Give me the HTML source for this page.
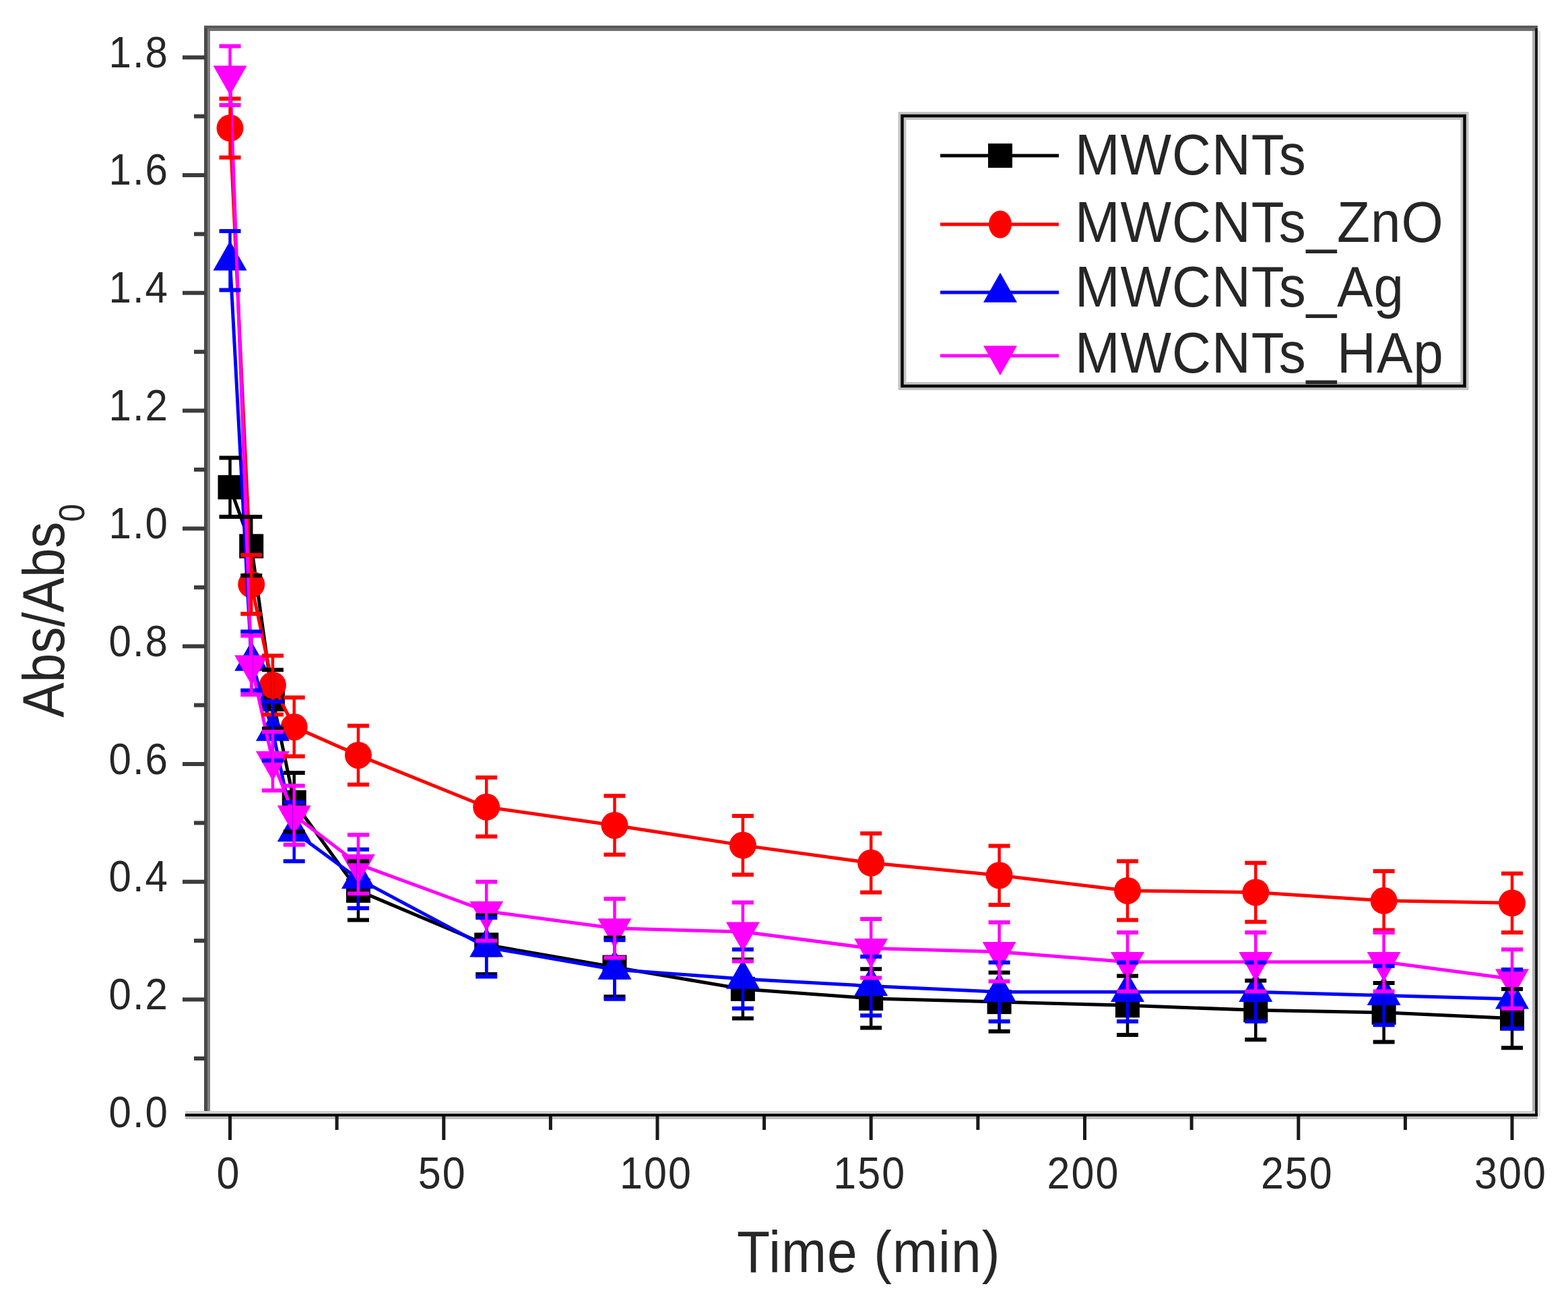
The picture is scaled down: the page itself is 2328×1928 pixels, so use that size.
<!DOCTYPE html>
<html><head><meta charset="utf-8"><title>Abs/Abs0 vs Time</title>
<style>html,body{margin:0;padding:0;background:#fff;}svg{display:block;}text{font-family:'Liberation Sans',Arial,sans-serif;}</style>
</head><body>
<svg width="2328" height="1928" viewBox="0 0 2328 1928">
<rect width="2328" height="1928" fill="#fff"/>
<rect x="303" y="38" width="5" height="1619" fill="#4a4a4a"/>
<rect x="308" y="42" width="4" height="1611" fill="#808080"/>
<rect x="303" y="38" width="1980" height="4" fill="#5a5a5a"/>
<rect x="308" y="42" width="1975" height="4" fill="#707070"/>
<rect x="2275" y="46" width="4" height="1607" fill="#b0b0b0"/>
<rect x="2279" y="42" width="4" height="1615" fill="#1a1a1a"/>
<rect x="2283" y="46" width="4" height="1611" fill="#e0e0e0"/>
<rect x="275" y="1649" width="2004" height="4" fill="#d0d0d0"/>
<rect x="275" y="1653" width="2008" height="4" fill="#000"/>
<rect x="275" y="1657" width="2008" height="4" fill="#c0c0c0"/>
<line x1="288" y1="1571.0" x2="305" y2="1571.0" stroke="#3c3c3c" stroke-width="6"/>
<line x1="271" y1="1483.6" x2="305" y2="1483.6" stroke="#3c3c3c" stroke-width="6"/>
<line x1="288" y1="1396.2" x2="305" y2="1396.2" stroke="#3c3c3c" stroke-width="6"/>
<line x1="271" y1="1308.8" x2="305" y2="1308.8" stroke="#3c3c3c" stroke-width="6"/>
<line x1="288" y1="1221.4" x2="305" y2="1221.4" stroke="#3c3c3c" stroke-width="6"/>
<line x1="271" y1="1134.0" x2="305" y2="1134.0" stroke="#3c3c3c" stroke-width="6"/>
<line x1="288" y1="1046.6" x2="305" y2="1046.6" stroke="#3c3c3c" stroke-width="6"/>
<line x1="271" y1="959.2" x2="305" y2="959.2" stroke="#3c3c3c" stroke-width="6"/>
<line x1="288" y1="871.8" x2="305" y2="871.8" stroke="#3c3c3c" stroke-width="6"/>
<line x1="271" y1="784.4" x2="305" y2="784.4" stroke="#3c3c3c" stroke-width="6"/>
<line x1="288" y1="697.0" x2="305" y2="697.0" stroke="#3c3c3c" stroke-width="6"/>
<line x1="271" y1="609.6" x2="305" y2="609.6" stroke="#3c3c3c" stroke-width="6"/>
<line x1="288" y1="522.2" x2="305" y2="522.2" stroke="#3c3c3c" stroke-width="6"/>
<line x1="271" y1="434.8" x2="305" y2="434.8" stroke="#3c3c3c" stroke-width="6"/>
<line x1="288" y1="347.4" x2="305" y2="347.4" stroke="#3c3c3c" stroke-width="6"/>
<line x1="271" y1="260.0" x2="305" y2="260.0" stroke="#3c3c3c" stroke-width="6"/>
<line x1="288" y1="172.6" x2="305" y2="172.6" stroke="#3c3c3c" stroke-width="6"/>
<line x1="271" y1="85.2" x2="305" y2="85.2" stroke="#3c3c3c" stroke-width="6"/>
<line x1="341.5" y1="1657" x2="341.5" y2="1692" stroke="#1a1a1a" stroke-width="5"/>
<line x1="500.1" y1="1657" x2="500.1" y2="1677" stroke="#1a1a1a" stroke-width="5"/>
<line x1="658.8" y1="1657" x2="658.8" y2="1692" stroke="#1a1a1a" stroke-width="5"/>
<line x1="817.4" y1="1657" x2="817.4" y2="1677" stroke="#1a1a1a" stroke-width="5"/>
<line x1="976.0" y1="1657" x2="976.0" y2="1692" stroke="#1a1a1a" stroke-width="5"/>
<line x1="1134.6" y1="1657" x2="1134.6" y2="1677" stroke="#1a1a1a" stroke-width="5"/>
<line x1="1293.2" y1="1657" x2="1293.2" y2="1692" stroke="#1a1a1a" stroke-width="5"/>
<line x1="1451.9" y1="1657" x2="1451.9" y2="1677" stroke="#1a1a1a" stroke-width="5"/>
<line x1="1610.5" y1="1657" x2="1610.5" y2="1692" stroke="#1a1a1a" stroke-width="5"/>
<line x1="1769.1" y1="1657" x2="1769.1" y2="1677" stroke="#1a1a1a" stroke-width="5"/>
<line x1="1927.8" y1="1657" x2="1927.8" y2="1692" stroke="#1a1a1a" stroke-width="5"/>
<line x1="2086.4" y1="1657" x2="2086.4" y2="1677" stroke="#1a1a1a" stroke-width="5"/>
<line x1="2245.0" y1="1657" x2="2245.0" y2="1692" stroke="#1a1a1a" stroke-width="5"/>
<text x="251" y="1534.8" transform="scale(1,1.09)" text-anchor="end" font-size="60" letter-spacing="2" fill="#262626">0.0</text>
<text x="251" y="1374.4" transform="scale(1,1.09)" text-anchor="end" font-size="60" letter-spacing="2" fill="#262626">0.2</text>
<text x="251" y="1214.0" transform="scale(1,1.09)" text-anchor="end" font-size="60" letter-spacing="2" fill="#262626">0.4</text>
<text x="251" y="1053.7" transform="scale(1,1.09)" text-anchor="end" font-size="60" letter-spacing="2" fill="#262626">0.6</text>
<text x="251" y="893.3" transform="scale(1,1.09)" text-anchor="end" font-size="60" letter-spacing="2" fill="#262626">0.8</text>
<text x="251" y="732.9" transform="scale(1,1.09)" text-anchor="end" font-size="60" letter-spacing="2" fill="#262626">1.0</text>
<text x="251" y="572.6" transform="scale(1,1.09)" text-anchor="end" font-size="60" letter-spacing="2" fill="#262626">1.2</text>
<text x="251" y="412.2" transform="scale(1,1.09)" text-anchor="end" font-size="60" letter-spacing="2" fill="#262626">1.4</text>
<text x="251" y="251.8" transform="scale(1,1.09)" text-anchor="end" font-size="60" letter-spacing="2" fill="#262626">1.6</text>
<text x="251" y="91.5" transform="scale(1,1.09)" text-anchor="end" font-size="60" letter-spacing="2" fill="#262626">1.8</text>
<text x="339.5" y="1618.3" transform="scale(1,1.09)" text-anchor="middle" font-size="61" letter-spacing="2" fill="#262626">0</text>
<text x="656.8" y="1618.3" transform="scale(1,1.09)" text-anchor="middle" font-size="61" letter-spacing="2" fill="#262626">50</text>
<text x="974.0" y="1618.3" transform="scale(1,1.09)" text-anchor="middle" font-size="61" letter-spacing="2" fill="#262626">100</text>
<text x="1291.2" y="1618.3" transform="scale(1,1.09)" text-anchor="middle" font-size="61" letter-spacing="2" fill="#262626">150</text>
<text x="1608.5" y="1618.3" transform="scale(1,1.09)" text-anchor="middle" font-size="61" letter-spacing="2" fill="#262626">200</text>
<text x="1925.8" y="1618.3" transform="scale(1,1.09)" text-anchor="middle" font-size="61" letter-spacing="2" fill="#262626">250</text>
<text x="2243.0" y="1618.3" transform="scale(1,1.09)" text-anchor="middle" font-size="61" letter-spacing="2" fill="#262626">300</text>
<text x="1094" y="1754.9" transform="scale(1,1.076)" font-size="80.5" letter-spacing="1" fill="#262626">Time (min)</text>
<g transform="translate(95,1065) rotate(-90) scale(1,1.11)"><text x="0" y="0" font-size="78" fill="#262626">Abs/Abs<tspan font-size="48" dy="27">0</tspan></text></g>
<polyline points="341.5,723.2 373.2,810.6 404.9,1037.9 436.7,1190.8 531.9,1321.9 722.2,1402.3 912.5,1435.5 1102.9,1467.9 1293.2,1481.9 1483.6,1487.1 1674.0,1492.3 1864.3,1499.3 2054.6,1502.8 2245.0,1511.6" fill="none" stroke="#000000" stroke-width="5" stroke-linejoin="round"/>
<rect x="323.5" y="705.2" width="36" height="36" fill="#000000"/>
<rect x="355.2" y="792.6" width="36" height="36" fill="#000000"/>
<rect x="386.9" y="1019.9" width="36" height="36" fill="#000000"/>
<rect x="418.7" y="1172.8" width="36" height="36" fill="#000000"/>
<rect x="513.9" y="1303.9" width="36" height="36" fill="#000000"/>
<rect x="704.2" y="1384.3" width="36" height="36" fill="#000000"/>
<rect x="894.5" y="1417.5" width="36" height="36" fill="#000000"/>
<rect x="1084.9" y="1449.9" width="36" height="36" fill="#000000"/>
<rect x="1275.2" y="1463.9" width="36" height="36" fill="#000000"/>
<rect x="1465.6" y="1469.1" width="36" height="36" fill="#000000"/>
<rect x="1656.0" y="1474.3" width="36" height="36" fill="#000000"/>
<rect x="1846.3" y="1481.3" width="36" height="36" fill="#000000"/>
<rect x="2036.6" y="1484.8" width="36" height="36" fill="#000000"/>
<rect x="2227.0" y="1493.6" width="36" height="36" fill="#000000"/>
<polyline points="341.5,190.1 373.2,867.4 404.9,1016.9 436.7,1078.9 531.9,1120.9 722.2,1197.8 912.5,1224.9 1102.9,1254.6 1293.2,1280.8 1483.6,1299.2 1674.0,1321.9 1864.3,1324.5 2054.6,1336.8 2245.0,1340.3" fill="none" stroke="#ff0000" stroke-width="5" stroke-linejoin="round"/>
<circle cx="341.5" cy="190.1" r="20" fill="#ff0000"/>
<circle cx="373.2" cy="867.4" r="20" fill="#ff0000"/>
<circle cx="404.9" cy="1016.9" r="20" fill="#ff0000"/>
<circle cx="436.7" cy="1078.9" r="20" fill="#ff0000"/>
<circle cx="531.9" cy="1120.9" r="20" fill="#ff0000"/>
<circle cx="722.2" cy="1197.8" r="20" fill="#ff0000"/>
<circle cx="912.5" cy="1224.9" r="20" fill="#ff0000"/>
<circle cx="1102.9" cy="1254.6" r="20" fill="#ff0000"/>
<circle cx="1293.2" cy="1280.8" r="20" fill="#ff0000"/>
<circle cx="1483.6" cy="1299.2" r="20" fill="#ff0000"/>
<circle cx="1674.0" cy="1321.9" r="20" fill="#ff0000"/>
<circle cx="1864.3" cy="1324.5" r="20" fill="#ff0000"/>
<circle cx="2054.6" cy="1336.8" r="20" fill="#ff0000"/>
<circle cx="2245.0" cy="1340.3" r="20" fill="#ff0000"/>
<polyline points="341.5,386.7 373.2,981.1 404.9,1085.1 436.7,1234.5 531.9,1304.4 722.2,1405.8 912.5,1439.0 1102.9,1453.0 1293.2,1463.5 1483.6,1472.2 1674.0,1472.2 1864.3,1472.2 2054.6,1477.5 2245.0,1482.7" fill="none" stroke="#0000ff" stroke-width="5" stroke-linejoin="round"/>
<polygon points="316.5,401.4 366.5,401.4 341.5,357.4" fill="#0000ff"/>
<polygon points="348.2,995.7 398.2,995.7 373.2,951.7" fill="#0000ff"/>
<polygon points="379.9,1099.7 429.9,1099.7 404.9,1055.7" fill="#0000ff"/>
<polygon points="411.7,1249.2 461.7,1249.2 436.7,1205.2" fill="#0000ff"/>
<polygon points="506.9,1319.1 556.9,1319.1 531.9,1275.1" fill="#0000ff"/>
<polygon points="697.2,1420.5 747.2,1420.5 722.2,1376.5" fill="#0000ff"/>
<polygon points="887.5,1453.7 937.5,1453.7 912.5,1409.7" fill="#0000ff"/>
<polygon points="1077.9,1467.7 1127.9,1467.7 1102.9,1423.7" fill="#0000ff"/>
<polygon points="1268.2,1478.2 1318.2,1478.2 1293.2,1434.2" fill="#0000ff"/>
<polygon points="1458.6,1486.9 1508.6,1486.9 1483.6,1442.9" fill="#0000ff"/>
<polygon points="1649.0,1486.9 1699.0,1486.9 1674.0,1442.9" fill="#0000ff"/>
<polygon points="1839.3,1486.9 1889.3,1486.9 1864.3,1442.9" fill="#0000ff"/>
<polygon points="2029.6,1492.1 2079.6,1492.1 2054.6,1448.1" fill="#0000ff"/>
<polygon points="2220.0,1497.4 2270.0,1497.4 2245.0,1453.4" fill="#0000ff"/>
<polyline points="341.5,112.3 373.2,987.2 404.9,1129.6 436.7,1210.0 531.9,1282.6 722.2,1352.5 912.5,1377.8 1102.9,1383.1 1293.2,1407.6 1483.6,1412.8 1674.0,1427.7 1864.3,1427.7 2054.6,1427.7 2245.0,1453.0" fill="none" stroke="#ff00ff" stroke-width="5" stroke-linejoin="round"/>
<polygon points="316.5,97.6 366.5,97.6 341.5,141.6" fill="#ff00ff"/>
<polygon points="348.2,972.5 398.2,972.5 373.2,1016.5" fill="#ff00ff"/>
<polygon points="379.9,1115.0 429.9,1115.0 404.9,1159.0" fill="#ff00ff"/>
<polygon points="411.7,1195.4 461.7,1195.4 436.7,1239.4" fill="#ff00ff"/>
<polygon points="506.9,1267.9 556.9,1267.9 531.9,1311.9" fill="#ff00ff"/>
<polygon points="697.2,1337.8 747.2,1337.8 722.2,1381.8" fill="#ff00ff"/>
<polygon points="887.5,1363.2 937.5,1363.2 912.5,1407.2" fill="#ff00ff"/>
<polygon points="1077.9,1368.4 1127.9,1368.4 1102.9,1412.4" fill="#ff00ff"/>
<polygon points="1268.2,1392.9 1318.2,1392.9 1293.2,1436.9" fill="#ff00ff"/>
<polygon points="1458.6,1398.1 1508.6,1398.1 1483.6,1442.1" fill="#ff00ff"/>
<polygon points="1649.0,1413.0 1699.0,1413.0 1674.0,1457.0" fill="#ff00ff"/>
<polygon points="1839.3,1413.0 1889.3,1413.0 1864.3,1457.0" fill="#ff00ff"/>
<polygon points="2029.6,1413.0 2079.6,1413.0 2054.6,1457.0" fill="#ff00ff"/>
<polygon points="2220.0,1438.3 2270.0,1438.3 2245.0,1482.3" fill="#ff00ff"/>
<path d="M341.5,679.5V766.9" stroke="#000000" stroke-width="4.5" fill="none"/>
<path d="M325.5,679.5H357.5M325.5,766.9H357.5" stroke="#000000" stroke-width="6" fill="none"/>
<path d="M373.2,766.9V854.3" stroke="#000000" stroke-width="4.5" fill="none"/>
<path d="M357.2,766.9H389.2M357.2,854.3H389.2" stroke="#000000" stroke-width="6" fill="none"/>
<path d="M404.9,994.2V1081.6" stroke="#000000" stroke-width="4.5" fill="none"/>
<path d="M388.9,994.2H420.9M388.9,1081.6H420.9" stroke="#000000" stroke-width="6" fill="none"/>
<path d="M436.7,1147.1V1234.5" stroke="#000000" stroke-width="4.5" fill="none"/>
<path d="M420.7,1147.1H452.7M420.7,1234.5H452.7" stroke="#000000" stroke-width="6" fill="none"/>
<path d="M531.9,1278.2V1365.6" stroke="#000000" stroke-width="4.5" fill="none"/>
<path d="M515.9,1278.2H547.9M515.9,1365.6H547.9" stroke="#000000" stroke-width="6" fill="none"/>
<path d="M722.2,1358.6V1446.0" stroke="#000000" stroke-width="4.5" fill="none"/>
<path d="M706.2,1358.6H738.2M706.2,1446.0H738.2" stroke="#000000" stroke-width="6" fill="none"/>
<path d="M912.5,1391.8V1479.2" stroke="#000000" stroke-width="4.5" fill="none"/>
<path d="M896.5,1391.8H928.5M896.5,1479.2H928.5" stroke="#000000" stroke-width="6" fill="none"/>
<path d="M1102.9,1424.2V1511.6" stroke="#000000" stroke-width="4.5" fill="none"/>
<path d="M1086.9,1424.2H1118.9M1086.9,1511.6H1118.9" stroke="#000000" stroke-width="6" fill="none"/>
<path d="M1293.2,1438.2V1525.6" stroke="#000000" stroke-width="4.5" fill="none"/>
<path d="M1277.2,1438.2H1309.2M1277.2,1525.6H1309.2" stroke="#000000" stroke-width="6" fill="none"/>
<path d="M1483.6,1443.4V1530.8" stroke="#000000" stroke-width="4.5" fill="none"/>
<path d="M1467.6,1443.4H1499.6M1467.6,1530.8H1499.6" stroke="#000000" stroke-width="6" fill="none"/>
<path d="M1674.0,1448.6V1536.0" stroke="#000000" stroke-width="4.5" fill="none"/>
<path d="M1658.0,1448.6H1690.0M1658.0,1536.0H1690.0" stroke="#000000" stroke-width="6" fill="none"/>
<path d="M1864.3,1455.6V1543.0" stroke="#000000" stroke-width="4.5" fill="none"/>
<path d="M1848.3,1455.6H1880.3M1848.3,1543.0H1880.3" stroke="#000000" stroke-width="6" fill="none"/>
<path d="M2054.6,1459.1V1546.5" stroke="#000000" stroke-width="4.5" fill="none"/>
<path d="M2038.6,1459.1H2070.6M2038.6,1546.5H2070.6" stroke="#000000" stroke-width="6" fill="none"/>
<path d="M2245.0,1467.9V1555.3" stroke="#000000" stroke-width="4.5" fill="none"/>
<path d="M2229.0,1467.9H2261.0M2229.0,1555.3H2261.0" stroke="#000000" stroke-width="6" fill="none"/>
<path d="M341.5,146.4V233.8" stroke="#ff0000" stroke-width="4.5" fill="none"/>
<path d="M325.5,146.4H357.5M325.5,233.8H357.5" stroke="#ff0000" stroke-width="6" fill="none"/>
<path d="M373.2,823.7V911.1" stroke="#ff0000" stroke-width="4.5" fill="none"/>
<path d="M357.2,823.7H389.2M357.2,911.1H389.2" stroke="#ff0000" stroke-width="6" fill="none"/>
<path d="M404.9,973.2V1060.6" stroke="#ff0000" stroke-width="4.5" fill="none"/>
<path d="M388.9,973.2H420.9M388.9,1060.6H420.9" stroke="#ff0000" stroke-width="6" fill="none"/>
<path d="M436.7,1035.2V1122.6" stroke="#ff0000" stroke-width="4.5" fill="none"/>
<path d="M420.7,1035.2H452.7M420.7,1122.6H452.7" stroke="#ff0000" stroke-width="6" fill="none"/>
<path d="M531.9,1077.2V1164.6" stroke="#ff0000" stroke-width="4.5" fill="none"/>
<path d="M515.9,1077.2H547.9M515.9,1164.6H547.9" stroke="#ff0000" stroke-width="6" fill="none"/>
<path d="M722.2,1154.1V1241.5" stroke="#ff0000" stroke-width="4.5" fill="none"/>
<path d="M706.2,1154.1H738.2M706.2,1241.5H738.2" stroke="#ff0000" stroke-width="6" fill="none"/>
<path d="M912.5,1181.2V1268.6" stroke="#ff0000" stroke-width="4.5" fill="none"/>
<path d="M896.5,1181.2H928.5M896.5,1268.6H928.5" stroke="#ff0000" stroke-width="6" fill="none"/>
<path d="M1102.9,1210.9V1298.3" stroke="#ff0000" stroke-width="4.5" fill="none"/>
<path d="M1086.9,1210.9H1118.9M1086.9,1298.3H1118.9" stroke="#ff0000" stroke-width="6" fill="none"/>
<path d="M1293.2,1237.1V1324.5" stroke="#ff0000" stroke-width="4.5" fill="none"/>
<path d="M1277.2,1237.1H1309.2M1277.2,1324.5H1309.2" stroke="#ff0000" stroke-width="6" fill="none"/>
<path d="M1483.6,1255.5V1342.9" stroke="#ff0000" stroke-width="4.5" fill="none"/>
<path d="M1467.6,1255.5H1499.6M1467.6,1342.9H1499.6" stroke="#ff0000" stroke-width="6" fill="none"/>
<path d="M1674.0,1278.2V1365.6" stroke="#ff0000" stroke-width="4.5" fill="none"/>
<path d="M1658.0,1278.2H1690.0M1658.0,1365.6H1690.0" stroke="#ff0000" stroke-width="6" fill="none"/>
<path d="M1864.3,1280.8V1368.2" stroke="#ff0000" stroke-width="4.5" fill="none"/>
<path d="M1848.3,1280.8H1880.3M1848.3,1368.2H1880.3" stroke="#ff0000" stroke-width="6" fill="none"/>
<path d="M2054.6,1293.1V1380.5" stroke="#ff0000" stroke-width="4.5" fill="none"/>
<path d="M2038.6,1293.1H2070.6M2038.6,1380.5H2070.6" stroke="#ff0000" stroke-width="6" fill="none"/>
<path d="M2245.0,1296.6V1384.0" stroke="#ff0000" stroke-width="4.5" fill="none"/>
<path d="M2229.0,1296.6H2261.0M2229.0,1384.0H2261.0" stroke="#ff0000" stroke-width="6" fill="none"/>
<path d="M341.5,343.0V430.4" stroke="#0000ff" stroke-width="4.5" fill="none"/>
<path d="M325.5,343.0H357.5M325.5,430.4H357.5" stroke="#0000ff" stroke-width="6" fill="none"/>
<path d="M373.2,937.4V1024.8" stroke="#0000ff" stroke-width="4.5" fill="none"/>
<path d="M357.2,937.4H389.2M357.2,1024.8H389.2" stroke="#0000ff" stroke-width="6" fill="none"/>
<path d="M404.9,1041.4V1128.8" stroke="#0000ff" stroke-width="4.5" fill="none"/>
<path d="M388.9,1041.4H420.9M388.9,1128.8H420.9" stroke="#0000ff" stroke-width="6" fill="none"/>
<path d="M436.7,1190.8V1278.2" stroke="#0000ff" stroke-width="4.5" fill="none"/>
<path d="M420.7,1190.8H452.7M420.7,1278.2H452.7" stroke="#0000ff" stroke-width="6" fill="none"/>
<path d="M531.9,1260.7V1348.1" stroke="#0000ff" stroke-width="4.5" fill="none"/>
<path d="M515.9,1260.7H547.9M515.9,1348.1H547.9" stroke="#0000ff" stroke-width="6" fill="none"/>
<path d="M722.2,1362.1V1449.5" stroke="#0000ff" stroke-width="4.5" fill="none"/>
<path d="M706.2,1362.1H738.2M706.2,1449.5H738.2" stroke="#0000ff" stroke-width="6" fill="none"/>
<path d="M912.5,1395.3V1482.7" stroke="#0000ff" stroke-width="4.5" fill="none"/>
<path d="M896.5,1395.3H928.5M896.5,1482.7H928.5" stroke="#0000ff" stroke-width="6" fill="none"/>
<path d="M1102.9,1409.3V1496.7" stroke="#0000ff" stroke-width="4.5" fill="none"/>
<path d="M1086.9,1409.3H1118.9M1086.9,1496.7H1118.9" stroke="#0000ff" stroke-width="6" fill="none"/>
<path d="M1293.2,1419.8V1507.2" stroke="#0000ff" stroke-width="4.5" fill="none"/>
<path d="M1277.2,1419.8H1309.2M1277.2,1507.2H1309.2" stroke="#0000ff" stroke-width="6" fill="none"/>
<path d="M1483.6,1428.5V1515.9" stroke="#0000ff" stroke-width="4.5" fill="none"/>
<path d="M1467.6,1428.5H1499.6M1467.6,1515.9H1499.6" stroke="#0000ff" stroke-width="6" fill="none"/>
<path d="M1674.0,1428.5V1515.9" stroke="#0000ff" stroke-width="4.5" fill="none"/>
<path d="M1658.0,1428.5H1690.0M1658.0,1515.9H1690.0" stroke="#0000ff" stroke-width="6" fill="none"/>
<path d="M1864.3,1428.5V1515.9" stroke="#0000ff" stroke-width="4.5" fill="none"/>
<path d="M1848.3,1428.5H1880.3M1848.3,1515.9H1880.3" stroke="#0000ff" stroke-width="6" fill="none"/>
<path d="M2054.6,1433.8V1521.2" stroke="#0000ff" stroke-width="4.5" fill="none"/>
<path d="M2038.6,1433.8H2070.6M2038.6,1521.2H2070.6" stroke="#0000ff" stroke-width="6" fill="none"/>
<path d="M2245.0,1439.0V1526.4" stroke="#0000ff" stroke-width="4.5" fill="none"/>
<path d="M2229.0,1439.0H2261.0M2229.0,1526.4H2261.0" stroke="#0000ff" stroke-width="6" fill="none"/>
<path d="M341.5,68.6V156.0" stroke="#ff00ff" stroke-width="4.5" fill="none"/>
<path d="M325.5,68.6H357.5M325.5,156.0H357.5" stroke="#ff00ff" stroke-width="6" fill="none"/>
<path d="M373.2,943.5V1030.9" stroke="#ff00ff" stroke-width="4.5" fill="none"/>
<path d="M357.2,943.5H389.2M357.2,1030.9H389.2" stroke="#ff00ff" stroke-width="6" fill="none"/>
<path d="M404.9,1085.9V1173.3" stroke="#ff00ff" stroke-width="4.5" fill="none"/>
<path d="M388.9,1085.9H420.9M388.9,1173.3H420.9" stroke="#ff00ff" stroke-width="6" fill="none"/>
<path d="M436.7,1166.3V1253.7" stroke="#ff00ff" stroke-width="4.5" fill="none"/>
<path d="M420.7,1166.3H452.7M420.7,1253.7H452.7" stroke="#ff00ff" stroke-width="6" fill="none"/>
<path d="M531.9,1238.9V1326.3" stroke="#ff00ff" stroke-width="4.5" fill="none"/>
<path d="M515.9,1238.9H547.9M515.9,1326.3H547.9" stroke="#ff00ff" stroke-width="6" fill="none"/>
<path d="M722.2,1308.8V1396.2" stroke="#ff00ff" stroke-width="4.5" fill="none"/>
<path d="M706.2,1308.8H738.2M706.2,1396.2H738.2" stroke="#ff00ff" stroke-width="6" fill="none"/>
<path d="M912.5,1334.1V1421.5" stroke="#ff00ff" stroke-width="4.5" fill="none"/>
<path d="M896.5,1334.1H928.5M896.5,1421.5H928.5" stroke="#ff00ff" stroke-width="6" fill="none"/>
<path d="M1102.9,1339.4V1426.8" stroke="#ff00ff" stroke-width="4.5" fill="none"/>
<path d="M1086.9,1339.4H1118.9M1086.9,1426.8H1118.9" stroke="#ff00ff" stroke-width="6" fill="none"/>
<path d="M1293.2,1363.9V1451.3" stroke="#ff00ff" stroke-width="4.5" fill="none"/>
<path d="M1277.2,1363.9H1309.2M1277.2,1451.3H1309.2" stroke="#ff00ff" stroke-width="6" fill="none"/>
<path d="M1483.6,1369.1V1456.5" stroke="#ff00ff" stroke-width="4.5" fill="none"/>
<path d="M1467.6,1369.1H1499.6M1467.6,1456.5H1499.6" stroke="#ff00ff" stroke-width="6" fill="none"/>
<path d="M1674.0,1384.0V1471.4" stroke="#ff00ff" stroke-width="4.5" fill="none"/>
<path d="M1658.0,1384.0H1690.0M1658.0,1471.4H1690.0" stroke="#ff00ff" stroke-width="6" fill="none"/>
<path d="M1864.3,1384.0V1471.4" stroke="#ff00ff" stroke-width="4.5" fill="none"/>
<path d="M1848.3,1384.0H1880.3M1848.3,1471.4H1880.3" stroke="#ff00ff" stroke-width="6" fill="none"/>
<path d="M2054.6,1384.0V1471.4" stroke="#ff00ff" stroke-width="4.5" fill="none"/>
<path d="M2038.6,1384.0H2070.6M2038.6,1471.4H2070.6" stroke="#ff00ff" stroke-width="6" fill="none"/>
<path d="M2245.0,1409.3V1496.7" stroke="#ff00ff" stroke-width="4.5" fill="none"/>
<path d="M2229.0,1409.3H2261.0M2229.0,1496.7H2261.0" stroke="#ff00ff" stroke-width="6" fill="none"/>
<rect x="1339.5" y="172" width="835" height="401" fill="none" stroke="#c4c4c4" stroke-width="12"/>
<rect x="1339.5" y="172" width="835" height="401" fill="none" stroke="#0a0a0a" stroke-width="4.5"/>
<line x1="1396" y1="231" x2="1572" y2="231" stroke="#000000" stroke-width="5"/>
<rect x="1467.0" y="213.0" width="36" height="36" fill="#000000"/>
<text x="1596" y="243.9" transform="scale(1,1.06)" font-size="80" letter-spacing="1" fill="#262626">MWCNTs</text>
<line x1="1396" y1="333" x2="1572" y2="333" stroke="#ff0000" stroke-width="5"/>
<ellipse cx="1485.0" cy="333.0" rx="17" ry="20.5" fill="#ff0000"/>
<text x="1596" y="338.9" transform="scale(1,1.06)" font-size="80" letter-spacing="1" fill="#262626">MWCNTs_ZnO</text>
<line x1="1396" y1="434" x2="1572" y2="434" stroke="#0000ff" stroke-width="5"/>
<polygon points="1460.0,448.7 1510.0,448.7 1485.0,404.7" fill="#0000ff"/>
<text x="1596" y="429.1" transform="scale(1,1.06)" font-size="80" letter-spacing="1" fill="#262626">MWCNTs_Ag</text>
<line x1="1396" y1="528" x2="1572" y2="528" stroke="#ff00ff" stroke-width="5"/>
<polygon points="1460.0,513.3 1510.0,513.3 1485.0,557.3" fill="#ff00ff"/>
<text x="1596" y="522.1" transform="scale(1,1.06)" font-size="80" letter-spacing="1" fill="#262626">MWCNTs_HAp</text>
</svg>
</body></html>
